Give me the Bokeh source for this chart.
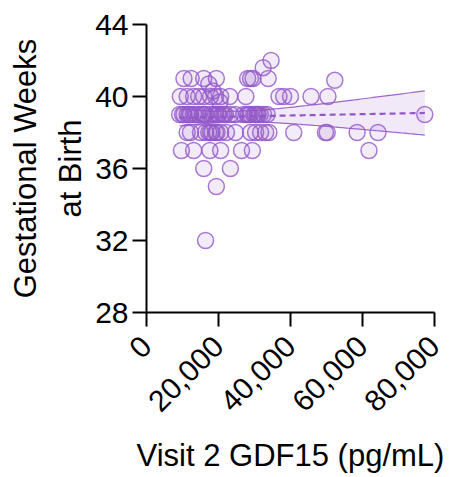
import numpy as np
from bokeh.plotting import figure
from bokeh.models import Range1d, NumeralTickFormatter, FixedTicker
from bokeh.embed import file_html
from bokeh.resources import INLINE

# ---- data ----
gdf15 = [
    34600,
    32400,
    10400, 12400, 15900, 19400, 28100, 28900, 29600, 33800, 52300,
    17300, 18500,
    9400, 11300, 13100, 14500, 15900, 17800, 19200, 20600, 23100, 27600,
    36800, 38100, 40000, 45700, 50400, 20400,
    9200, 10400, 11300, 12200, 13100, 14500, 15500, 16400, 17800, 19200,
    20100, 21000, 21900, 23300, 24700, 27000, 27900, 28800, 29800, 30700,
    31600, 32500, 33500, 77300,
    10000, 11800, 13800, 16000, 18500, 19800, 21500, 28300, 30200, 31000,
    11300, 12200, 15000, 16400, 17300, 18200, 19200, 20600, 22200, 24700,
    28900, 30300, 31700, 33100, 34000, 40900, 49700, 50200, 58500, 64300,
    17800, 19600,
    9700, 13100, 17600, 20600, 26400, 29400, 61800,
    15900, 23300,
    19400,
    16400,
]
weeks = [
    42.0,
    41.6,
    41, 41, 41, 41, 41, 41, 41, 41, 40.9,
    40.7, 40.3,
    40, 40, 40, 40, 40, 40, 40, 40, 40, 40,
    40, 40, 40, 40, 40, 39.7,
    39, 39, 39, 39, 39, 39, 39, 39, 39, 39,
    39, 39, 39, 39, 39, 39, 39, 39, 39, 39,
    39, 39, 39, 39,
    39, 39, 39, 39, 39, 39, 39, 39, 39, 39,
    38, 38, 38, 38, 38, 38, 38, 38, 38, 38,
    38, 38, 38, 38, 38, 38, 38, 38, 38, 38,
    38, 38,
    37, 37, 37, 37, 37, 37, 37,
    36, 36,
    35,
    32,
]
x_ticks = [0, 20000, 40000, 60000, 80000]
y_ticks = [28, 32, 36, 40, 44]

PURPLE = "#9457c9"
FONT = "Liberation Sans"

# ---- linear fit with 95% confidence band ----
x = np.array(gdf15, dtype=float)
y = np.array(weeks, dtype=float)
n = len(x)
slope, intercept = np.polyfit(x, y, 1)
xs = np.linspace(x.min(), x.max(), 120)
fit = intercept + slope * xs
resid = y - (intercept + slope * x)
s = np.sqrt(np.sum(resid ** 2) / (n - 2))
xbar = x.mean()
sxx = np.sum((x - xbar) ** 2)
se = s * np.sqrt(1.0 / n + (xs - xbar) ** 2 / sxx)
tval = 1.985
lo = fit - tval * se
hi = fit + tval * se

p = figure(
    frame_width=288, frame_height=288,
    min_border_left=146, min_border_top=24, min_border_right=24, min_border_bottom=150,
    x_range=Range1d(0, 80000), y_range=Range1d(28, 44),
    output_backend="svg", toolbar_location=None,
)
p.outline_line_color = None
p.xgrid.visible = False
p.ygrid.visible = False
p.background_fill_color = "white"

p.varea(x=xs, y1=lo, y2=hi, fill_color=PURPLE, fill_alpha=0.13)
p.line(xs, lo, line_color=PURPLE, line_width=1.2, line_alpha=0.9)
p.line(xs, hi, line_color=PURPLE, line_width=1.2, line_alpha=0.9)
p.line(xs, fit, line_color=PURPLE, line_width=2.2, line_dash="6 4")

p.scatter(x=gdf15, y=weeks, size=16, marker="circle",
          fill_color=PURPLE, fill_alpha=0.12,
          line_color=PURPLE, line_alpha=0.8, line_width=1.5)

for ax in (p.xaxis[0], p.yaxis[0]):
    ax.axis_line_width = 2
    ax.axis_line_color = "black"
    ax.major_tick_line_width = 2
    ax.major_tick_line_color = "black"
    ax.major_tick_out = 14
    ax.major_tick_in = 0
    ax.minor_tick_out = 0
    ax.minor_tick_in = 0
    ax.major_label_text_font = FONT
    ax.major_label_text_font_size = "30px"
    ax.major_label_text_color = "black"
    ax.axis_label_text_font = FONT
    ax.axis_label_text_font_size = "31px"
    ax.axis_label_text_font_style = "normal"
    ax.axis_label_text_color = "black"

p.xaxis.ticker = FixedTicker(ticks=x_ticks)
p.yaxis.ticker = FixedTicker(ticks=y_ticks)
p.xaxis.formatter = NumeralTickFormatter(format="0,0")
p.xaxis.major_label_orientation = np.pi / 4
p.xaxis.axis_label = "Visit 2 GDF15 (pg/mL)"
p.yaxis.axis_label = "Gestational Weeks\nat Birth"
p.yaxis.axis_label_text_line_height = 1.3
p.yaxis.axis_label_standoff = 4
p.xaxis.axis_label_standoff = 14
p.yaxis.major_label_standoff = 4
p.xaxis.major_label_standoff = 15

open("out.html", "w").write(file_html(p, INLINE))
